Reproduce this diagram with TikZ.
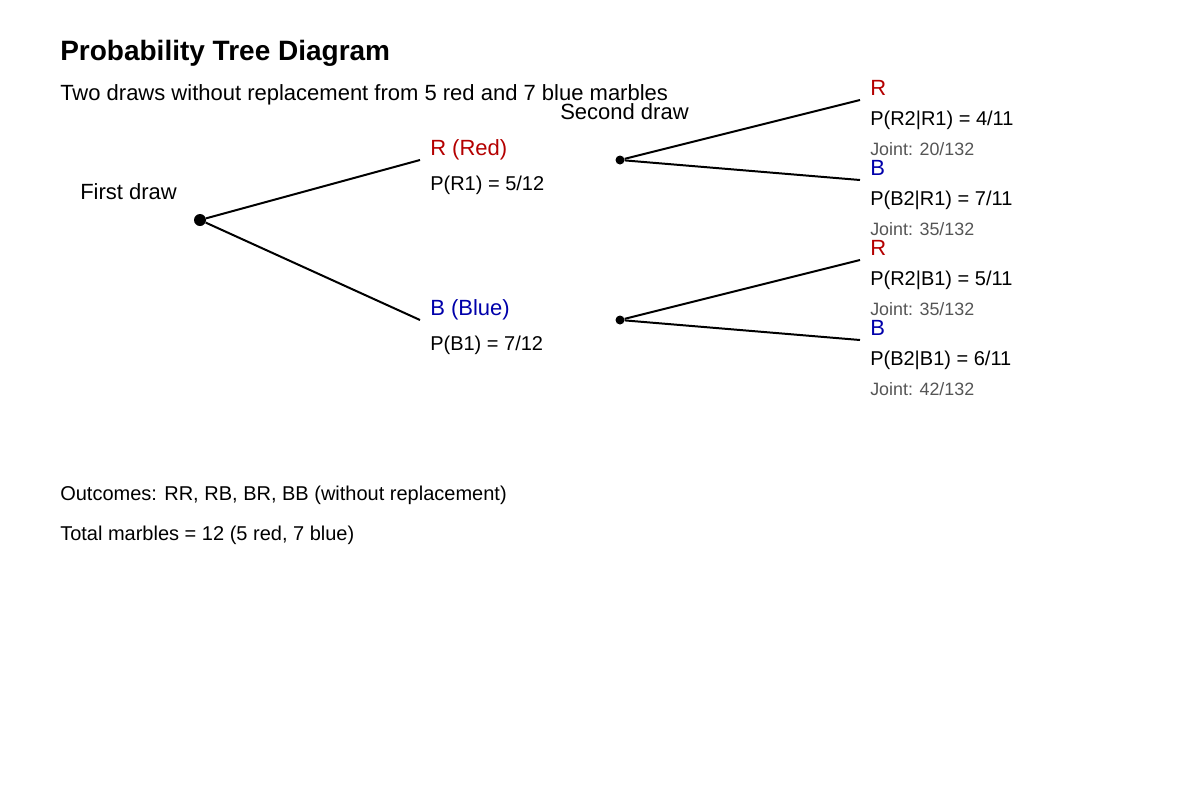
\documentclass[tikz,border=0pt]{standalone}
\usepackage{fontspec}
\setmainfont{Liberation Sans}
\usetikzlibrary{positioning}
\definecolor{redm}{RGB}{180,0,0}
\definecolor{bluem}{RGB}{0,0,170}
\definecolor{jointgray}{RGB}{85,85,85}
\begin{document}
\begin{tikzpicture}[x=0.75pt, y=-0.75pt,
  txt/.style={anchor=base west, inner sep=0pt, font=\fontsize{15}{18}\selectfont},
  big/.style={txt, font=\fontsize{16.5}{19}\selectfont},
  jnt/.style={txt, text=jointgray, font=\fontsize{13.4}{16}\selectfont},
  branch/.style={line width=1.5pt}]
\useasboundingbox (0,0) rectangle (1200,800);
\node[txt, font=\fontsize{21}{24}\selectfont\bfseries] (title) at (60,60) {Probability Tree Diagram};
\node[big] (sub) at (60,100) {Two draws without replacement from 5 red and 7 blue marbles};
\node[big] (first) at (80,199) {First draw};
\node[big] (second) at (560,119) {Second draw};
% first draw
\node[circle, fill, inner sep=0pt, minimum size=12pt*0.75] (root) at (200,220) {};
\coordinate (r1) at (420,160);
\coordinate (b1) at (420,320);
\draw[branch] (root) -- (r1);
\draw[branch] (root) -- (b1);
\node[big, text=redm] (r1lab) at (430,155) {R (Red)};
\node[txt] (r1p) at (430,190) {P(R1) = 5/12};
\node[big, text=bluem] (b1lab) at (430,315) {B (Blue)};
\node[txt] (b1p) at (430,350) {P(B1) = 7/12};
% second draw
\node[circle, fill, inner sep=0pt, minimum size=9pt*0.75] (nr) at (620,160) {};
\node[circle, fill, inner sep=0pt, minimum size=9pt*0.75] (nb) at (620,320) {};
\coordinate (rr) at (860,100);
\coordinate (rb) at (860,180);
\coordinate (br) at (860,260);
\coordinate (bb) at (860,340);
\draw[branch] (nr) -- (rr);
\draw[branch] (nr) -- (rb);
\draw[branch] (nb) -- (br);
\draw[branch] (nb) -- (bb);
\node[big, text=redm] (rrlab) at (870,95) {R};
\node[txt] (rrp) at (870,125) {P(R2|R1) = 4/11};
\node[jnt] (rrj) at (870,155) {Joint: 20/132};
\node[big, text=bluem] (rblab) at (870,175) {B};
\node[txt] (rbp) at (870,205) {P(B2|R1) = 7/11};
\node[jnt] (rbj) at (870,235) {Joint: 35/132};
\node[big, text=redm] (brlab) at (870,255) {R};
\node[txt] (brp) at (870,285) {P(R2|B1) = 5/11};
\node[jnt] (brj) at (870,315) {Joint: 35/132};
\node[big, text=bluem] (bblab) at (870,335) {B};
\node[txt] (bbp) at (870,365) {P(B2|B1) = 6/11};
\node[jnt] (bbj) at (870,395) {Joint: 42/132};
% notes
\node[txt] (outc) at (60,500) {Outcomes: RR, RB, BR, BB (without replacement)};
\node[txt] (total) at (60,540) {Total marbles = 12 (5 red, 7 blue)};
\end{tikzpicture}
\end{document}
